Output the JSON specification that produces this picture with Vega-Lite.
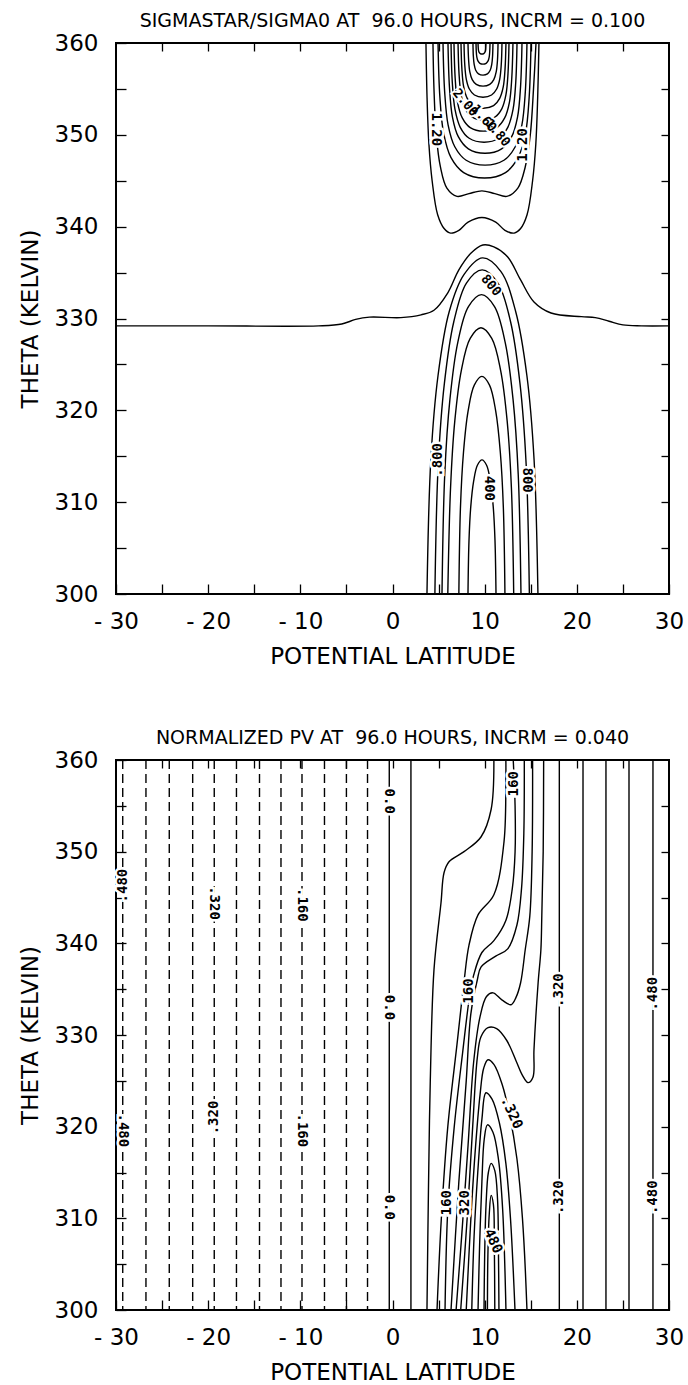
{
"$schema": "https://vega.github.io/schema/vega-lite/v6.json",
"autosize": {"type": "pad"},
"padding": {"left": 18, "top": 11, "right": 0, "bottom": 0},
"background": "white",
"bounds": "flush",
"spacing": 166,
"config": {
 "view": {"stroke": "black", "strokeWidth": 2},
 "axis": {"labelFlush": false, "labelOverlap": false, "labelBound": false, "grid": false, "domain": false, "tickColor": "black", "tickWidth": 1.3, "labelColor": "black", "titleColor": "black", "labelFont": "DejaVu Sans", "titleFont": "DejaVu Sans", "labelFontSize": 23, "titleFontSize": 23, "titleFontWeight": "normal"}
},
"datasets": {
 "tl": [
  {"c":"L10","i":0,"x":-30,"y":329.2},{"c":"L10","i":1,"x":-20,"y":329.2},{"c":"L10","i":2,"x":-8,"y":329.2},{"c":"L10","i":3,"x":-5.5,"y":329.4},{"c":"L10","i":4,"x":-4,"y":329.9},{"c":"L10","i":5,"x":-2.5,"y":330.15},{"c":"L10","i":6,"x":0.9,"y":330.1},{"c":"L10","i":7,"x":3.1,"y":330.4},{"c":"L10","i":8,"x":4.5,"y":330.9},{"c":"L10","i":9,"x":6.0,"y":332.8},{"c":"L10","i":10,"x":7.2,"y":335.3},{"c":"L10","i":11,"x":8.5,"y":337.1},{"c":"L10","i":12,"x":9.8,"y":338.0},{"c":"L10","i":13,"x":11.0,"y":337.8},{"c":"L10","i":14,"x":12.5,"y":336.7},{"c":"L10","i":15,"x":13.9,"y":334.2},{"c":"L10","i":16,"x":15.35,"y":331.8},{"c":"L10","i":17,"x":17.2,"y":330.6},{"c":"L10","i":18,"x":20.5,"y":330.2},{"c":"L10","i":19,"x":22,"y":330.1},{"c":"L10","i":20,"x":23.5,"y":329.7},{"c":"L10","i":21,"x":25,"y":329.3},{"c":"L10","i":22,"x":27,"y":329.2},{"c":"L10","i":23,"x":30,"y":329.2},
  {"c":"U11","i":0,"x":3.63,"y":360},{"c":"U11","i":1,"x":3.75,"y":354},{"c":"U11","i":2,"x":3.95,"y":349},{"c":"U11","i":3,"x":4.3,"y":345},{"c":"U11","i":4,"x":4.9,"y":341.3},{"c":"U11","i":5,"x":5.6,"y":339.8},{"c":"U11","i":6,"x":6.3,"y":339.3},{"c":"U11","i":7,"x":7.2,"y":339.6},{"c":"U11","i":8,"x":8.2,"y":340.5},{"c":"U11","i":9,"x":9.7,"y":341.0},{"c":"U11","i":10,"x":11.2,"y":340.5},{"c":"U11","i":11,"x":12.2,"y":339.6},{"c":"U11","i":12,"x":13.2,"y":339.3},{"c":"U11","i":13,"x":13.9,"y":339.8},{"c":"U11","i":14,"x":14.6,"y":341.3},{"c":"U11","i":15,"x":15.2,"y":345},{"c":"U11","i":16,"x":15.55,"y":349},{"c":"U11","i":17,"x":15.75,"y":354},{"c":"U11","i":18,"x":15.89,"y":360},
  {"c":"U12","i":0,"x":4.39,"y":360},{"c":"U12","i":1,"x":4.5,"y":355},{"c":"U12","i":2,"x":4.75,"y":350},{"c":"U12","i":3,"x":5.2,"y":346.5},{"c":"U12","i":4,"x":5.9,"y":344.2},{"c":"U12","i":5,"x":7.0,"y":343.3},{"c":"U12","i":6,"x":8.3,"y":343.6},{"c":"U12","i":7,"x":9.7,"y":343.9},{"c":"U12","i":8,"x":11.1,"y":343.6},{"c":"U12","i":9,"x":12.4,"y":343.3},{"c":"U12","i":10,"x":13.6,"y":344.2},{"c":"U12","i":11,"x":14.4,"y":346.5},{"c":"U12","i":12,"x":14.95,"y":350},{"c":"U12","i":13,"x":15.3,"y":355},{"c":"U12","i":14,"x":15.57,"y":360},
  {"c":"U13","i":0,"x":4.94,"y":360},{"c":"U13","i":1,"x":5.14,"y":354.12},{"c":"U13","i":2,"x":5.55,"y":350.15},{"c":"U13","i":3,"x":6.35,"y":347.51},{"c":"U13","i":4,"x":7.72,"y":345.89},{"c":"U13","i":5,"x":9.99,"y":345.3},{"c":"U13","i":6,"x":12.26,"y":345.89},{"c":"U13","i":7,"x":13.62,"y":347.51},{"c":"U13","i":8,"x":14.43,"y":350.15},{"c":"U13","i":9,"x":14.83,"y":354.12},{"c":"U13","i":10,"x":15.03,"y":360},
  {"c":"U14","i":0,"x":5.48,"y":360},{"c":"U14","i":1,"x":5.66,"y":354.68},{"c":"U14","i":2,"x":6.03,"y":351.09},{"c":"U14","i":3,"x":6.76,"y":348.7},{"c":"U14","i":4,"x":7.99,"y":347.23},{"c":"U14","i":5,"x":10.04,"y":346.7},{"c":"U14","i":6,"x":12.09,"y":347.23},{"c":"U14","i":7,"x":13.32,"y":348.7},{"c":"U14","i":8,"x":14.04,"y":351.09},{"c":"U14","i":9,"x":14.41,"y":354.68},{"c":"U14","i":10,"x":14.59,"y":360},
  {"c":"U15","i":0,"x":6.02,"y":360},{"c":"U15","i":1,"x":6.18,"y":355.2},{"c":"U15","i":2,"x":6.5,"y":351.96},{"c":"U15","i":3,"x":7.14,"y":349.8},{"c":"U15","i":4,"x":8.23,"y":348.48},{"c":"U15","i":5,"x":10.04,"y":348.0},{"c":"U15","i":6,"x":11.84,"y":348.48},{"c":"U15","i":7,"x":12.93,"y":349.8},{"c":"U15","i":8,"x":13.57,"y":351.96},{"c":"U15","i":9,"x":13.89,"y":355.2},{"c":"U15","i":10,"x":14.05,"y":360},
  {"c":"U16","i":0,"x":6.35,"y":360},{"c":"U16","i":1,"x":6.49,"y":355.68},{"c":"U16","i":2,"x":6.78,"y":352.76},{"c":"U16","i":3,"x":7.35,"y":350.82},{"c":"U16","i":4,"x":8.32,"y":349.63},{"c":"U16","i":5,"x":9.93,"y":349.2},{"c":"U16","i":6,"x":11.54,"y":349.63},{"c":"U16","i":7,"x":12.51,"y":350.82},{"c":"U16","i":8,"x":13.08,"y":352.76},{"c":"U16","i":9,"x":13.37,"y":355.68},{"c":"U16","i":10,"x":13.51,"y":360},
  {"c":"U17","i":0,"x":6.67,"y":360},{"c":"U17","i":1,"x":6.8,"y":356.16},{"c":"U17","i":2,"x":7.05,"y":353.57},{"c":"U17","i":3,"x":7.57,"y":351.84},{"c":"U17","i":4,"x":8.43,"y":350.78},{"c":"U17","i":5,"x":9.87,"y":350.4},{"c":"U17","i":6,"x":11.31,"y":350.78},{"c":"U17","i":7,"x":12.17,"y":351.84},{"c":"U17","i":8,"x":12.69,"y":353.57},{"c":"U17","i":9,"x":12.94,"y":356.16},{"c":"U17","i":10,"x":13.07,"y":360},
  {"c":"U18","i":0,"x":7.11,"y":360},{"c":"U18","i":1,"x":7.22,"y":356.64},{"c":"U18","i":2,"x":7.44,"y":354.37},{"c":"U18","i":3,"x":7.88,"y":352.86},{"c":"U18","i":4,"x":8.63,"y":351.94},{"c":"U18","i":5,"x":9.88,"y":351.6},{"c":"U18","i":6,"x":11.12,"y":351.94},{"c":"U18","i":7,"x":11.87,"y":352.86},{"c":"U18","i":8,"x":12.31,"y":354.37},{"c":"U18","i":9,"x":12.53,"y":356.64},{"c":"U18","i":10,"x":12.64,"y":360},
  {"c":"U19","i":0,"x":7.43,"y":360},{"c":"U19","i":1,"x":7.53,"y":357.16},{"c":"U19","i":2,"x":7.72,"y":355.24},{"c":"U19","i":3,"x":8.11,"y":353.97},{"c":"U19","i":4,"x":8.77,"y":353.18},{"c":"U19","i":5,"x":9.87,"y":352.9},{"c":"U19","i":6,"x":10.97,"y":353.18},{"c":"U19","i":7,"x":11.63,"y":353.97},{"c":"U19","i":8,"x":12.02,"y":355.24},{"c":"U19","i":9,"x":12.21,"y":357.16},{"c":"U19","i":10,"x":12.31,"y":360},
  {"c":"U20","i":0,"x":7.76,"y":360},{"c":"U20","i":1,"x":7.84,"y":357.64},{"c":"U20","i":2,"x":8.01,"y":356.05},{"c":"U20","i":3,"x":8.34,"y":354.99},{"c":"U20","i":4,"x":8.89,"y":354.34},{"c":"U20","i":5,"x":9.82,"y":354.1},{"c":"U20","i":6,"x":10.75,"y":354.34},{"c":"U20","i":7,"x":11.3,"y":354.99},{"c":"U20","i":8,"x":11.63,"y":356.05},{"c":"U20","i":9,"x":11.8,"y":357.64},{"c":"U20","i":10,"x":11.88,"y":360},
  {"c":"U21","i":0,"x":8.19,"y":360},{"c":"U21","i":1,"x":8.26,"y":358.12},{"c":"U21","i":2,"x":8.39,"y":356.85},{"c":"U21","i":3,"x":8.65,"y":356.01},{"c":"U21","i":4,"x":9.09,"y":355.49},{"c":"U21","i":5,"x":9.82,"y":355.3},{"c":"U21","i":6,"x":10.55,"y":355.49},{"c":"U21","i":7,"x":10.99,"y":356.01},{"c":"U21","i":8,"x":11.25,"y":356.85},{"c":"U21","i":9,"x":11.39,"y":358.12},{"c":"U21","i":10,"x":11.45,"y":360},
  {"c":"U22","i":0,"x":8.73,"y":360},{"c":"U22","i":1,"x":8.77,"y":358.6},{"c":"U22","i":2,"x":8.86,"y":357.66},{"c":"U22","i":3,"x":9.03,"y":357.03},{"c":"U22","i":4,"x":9.33,"y":356.64},{"c":"U22","i":5,"x":9.82,"y":356.5},{"c":"U22","i":6,"x":10.3,"y":356.64},{"c":"U22","i":7,"x":10.6,"y":357.03},{"c":"U22","i":8,"x":10.77,"y":357.66},{"c":"U22","i":9,"x":10.86,"y":358.6},{"c":"U22","i":10,"x":10.9,"y":360},
  {"c":"U23","i":0,"x":9.06,"y":360},{"c":"U23","i":1,"x":9.09,"y":359.08},{"c":"U23","i":2,"x":9.15,"y":358.46},{"c":"U23","i":3,"x":9.27,"y":358.05},{"c":"U23","i":4,"x":9.48,"y":357.79},{"c":"U23","i":5,"x":9.82,"y":357.7},{"c":"U23","i":6,"x":10.16,"y":357.79},{"c":"U23","i":7,"x":10.37,"y":358.05},{"c":"U23","i":8,"x":10.49,"y":358.46},{"c":"U23","i":9,"x":10.55,"y":359.08},{"c":"U23","i":10,"x":10.58,"y":360},
  {"c":"U24","i":0,"x":9.28,"y":360},{"c":"U24","i":1,"x":9.3,"y":359.52},{"c":"U24","i":2,"x":9.33,"y":359.2},{"c":"U24","i":3,"x":9.4,"y":358.98},{"c":"U24","i":4,"x":9.52,"y":358.85},{"c":"U24","i":5,"x":9.71,"y":358.8},{"c":"U24","i":6,"x":9.9,"y":358.85},{"c":"U24","i":7,"x":10.02,"y":358.98},{"c":"U24","i":8,"x":10.09,"y":359.2},{"c":"U24","i":9,"x":10.12,"y":359.52},{"c":"U24","i":10,"x":10.14,"y":360},
  {"c":"D09","i":0,"x":3.74,"y":300},{"c":"D09","i":1,"x":4.16,"y":314.64},{"c":"D09","i":2,"x":4.94,"y":323.79},{"c":"D09","i":3,"x":6.15,"y":330.74},{"c":"D09","i":4,"x":7.77,"y":334.8},{"c":"D09","i":5,"x":9.76,"y":336.6},{"c":"D09","i":6,"x":11.75,"y":335.14},{"c":"D09","i":7,"x":13.37,"y":330.74},{"c":"D09","i":8,"x":14.58,"y":323.79},{"c":"D09","i":9,"x":15.36,"y":314.64},{"c":"D09","i":10,"x":15.78,"y":300},
  {"c":"D08","i":0,"x":4.6,"y":300},{"c":"D08","i":1,"x":4.96,"y":314.12},{"c":"D08","i":2,"x":5.63,"y":322.94},{"c":"D08","i":3,"x":6.65,"y":329.65},{"c":"D08","i":4,"x":8.04,"y":333.89},{"c":"D08","i":5,"x":9.73,"y":335.3},{"c":"D08","i":6,"x":11.42,"y":333.89},{"c":"D08","i":7,"x":12.81,"y":329.65},{"c":"D08","i":8,"x":13.83,"y":322.94},{"c":"D08","i":9,"x":14.5,"y":314.12},{"c":"D08","i":10,"x":14.85,"y":300},
  {"c":"D07","i":0,"x":5.37,"y":300},{"c":"D07","i":1,"x":5.67,"y":313.04},{"c":"D07","i":2,"x":6.23,"y":321.19},{"c":"D07","i":3,"x":7.08,"y":327.38},{"c":"D07","i":4,"x":8.24,"y":331.3},{"c":"D07","i":5,"x":9.66,"y":332.6},{"c":"D07","i":6,"x":11.07,"y":331.3},{"c":"D07","i":7,"x":12.23,"y":327.38},{"c":"D07","i":8,"x":13.08,"y":321.19},{"c":"D07","i":9,"x":13.64,"y":313.04},{"c":"D07","i":10,"x":13.94,"y":300},
  {"c":"D06","i":0,"x":6.0,"y":300},{"c":"D06","i":1,"x":6.3,"y":311.6},{"c":"D06","i":2,"x":6.76,"y":318.85},{"c":"D06","i":3,"x":7.47,"y":324.36},{"c":"D06","i":4,"x":8.43,"y":327.84},{"c":"D06","i":5,"x":9.6,"y":329.0},{"c":"D06","i":6,"x":10.77,"y":327.84},{"c":"D06","i":7,"x":11.73,"y":324.36},{"c":"D06","i":8,"x":12.44,"y":318.85},{"c":"D06","i":9,"x":12.9,"y":311.6},{"c":"D06","i":10,"x":13.15,"y":300},
  {"c":"D05","i":0,"x":7.2,"y":300},{"c":"D05","i":1,"x":7.375,"y":309.48},{"c":"D05","i":2,"x":7.7,"y":315.41},{"c":"D05","i":3,"x":8.2,"y":319.91},{"c":"D05","i":4,"x":8.875,"y":322.75},{"c":"D05","i":5,"x":9.7,"y":323.7},{"c":"D05","i":6,"x":10.525,"y":322.75},{"c":"D05","i":7,"x":11.2,"y":319.91},{"c":"D05","i":8,"x":11.7,"y":315.41},{"c":"D05","i":9,"x":12.025,"y":309.48},{"c":"D05","i":10,"x":12.2,"y":300},
  {"c":"D04","i":0,"x":8.19,"y":300},{"c":"D04","i":1,"x":8.3,"y":305.84},{"c":"D04","i":2,"x":8.49,"y":309.49},{"c":"D04","i":3,"x":8.8,"y":312.26},{"c":"D04","i":4,"x":9.21,"y":314.02},{"c":"D04","i":5,"x":9.71,"y":314.6},{"c":"D04","i":6,"x":10.21,"y":314.02},{"c":"D04","i":7,"x":10.62,"y":312.26},{"c":"D04","i":8,"x":10.93,"y":309.49},{"c":"D04","i":9,"x":11.12,"y":305.84},{"c":"D04","i":10,"x":11.23,"y":300}
 ],
 "tv": [{"t":"1.20","x":4.7,"y":350.6},{"t":"800","x":14.6,"y":312.4},{"t":"400","x":10.5,"y":311.5}],
 "tu": [{"t":"1.20","x":14.2,"y":348.9},{"t":".800","x":4.94,"y":314.6}],
 "ts": [{"t":"800","x":10.7,"y":333.6},{"t":"2.00","x":7.9,"y":353.5},{"t":"1.60","x":9.9,"y":351.8},{"t":"1.80","x":11.4,"y":350.2}],
 "bl": [
  {"c":"Z00","i":0,"x":-0.35,"y":360},{"c":"Z00","i":1,"x":-0.35,"y":300},
  {"c":"P04","i":0,"x":2.0,"y":360},{"c":"P04","i":1,"x":2.0,"y":300},
  {"c":"P08","i":0,"x":11.0,"y":360},{"c":"P08","i":1,"x":10.7,"y":354.6},{"c":"P08","i":2,"x":9.6,"y":351.6},{"c":"P08","i":3,"x":7.76,"y":350.0},{"c":"P08","i":4,"x":6.13,"y":348.9},{"c":"P08","i":5,"x":5.59,"y":347.7},{"c":"P08","i":6,"x":5.26,"y":344.4},{"c":"P08","i":7,"x":4.5,"y":337.1},{"c":"P08","i":8,"x":4.1,"y":325},{"c":"P08","i":9,"x":3.9,"y":313},{"c":"P08","i":10,"x":3.74,"y":300},
  {"c":"P12","i":0,"x":12.3,"y":360},{"c":"P12","i":1,"x":12.3,"y":358.4},{"c":"P12","i":2,"x":12.1,"y":351.1},{"c":"P12","i":3,"x":11.0,"y":345.3},{"c":"P12","i":4,"x":9.28,"y":343.1},{"c":"P12","i":5,"x":8.3,"y":339.8},{"c":"P12","i":6,"x":7.76,"y":335.8},{"c":"P12","i":7,"x":7.0,"y":329},{"c":"P12","i":8,"x":6.0,"y":320},{"c":"P12","i":9,"x":5.3,"y":310},{"c":"P12","i":10,"x":4.83,"y":300},
  {"c":"P16","i":0,"x":13.1,"y":360},{"c":"P16","i":1,"x":13.3,"y":355},{"c":"P16","i":2,"x":13.3,"y":350},{"c":"P16","i":3,"x":13.0,"y":346},{"c":"P16","i":4,"x":12.3,"y":342.5},{"c":"P16","i":5,"x":11.0,"y":340.3},{"c":"P16","i":6,"x":9.7,"y":339.0},{"c":"P16","i":7,"x":8.8,"y":336.5},{"c":"P16","i":8,"x":8.4,"y":334.5},{"c":"P16","i":9,"x":7.6,"y":328},{"c":"P16","i":10,"x":6.7,"y":320},{"c":"P16","i":11,"x":6.0,"y":311},{"c":"P16","i":12,"x":5.7,"y":300},
  {"c":"P20","i":0,"x":14.3,"y":360},{"c":"P20","i":1,"x":14.25,"y":352},{"c":"P20","i":2,"x":14.0,"y":346},{"c":"P20","i":3,"x":13.5,"y":342},{"c":"P20","i":4,"x":12.5,"y":339.4},{"c":"P20","i":5,"x":11.2,"y":338.6},{"c":"P20","i":6,"x":9.6,"y":337.4},{"c":"P20","i":7,"x":9.2,"y":336},{"c":"P20","i":8,"x":8.5,"y":332.3},{"c":"P20","i":9,"x":8.0,"y":325},{"c":"P20","i":10,"x":7.2,"y":314},{"c":"P20","i":11,"x":6.35,"y":300},
  {"c":"P24","i":0,"x":15.2,"y":360},{"c":"P24","i":1,"x":15.15,"y":350},{"c":"P24","i":2,"x":14.9,"y":343},{"c":"P24","i":3,"x":14.4,"y":339.3},{"c":"P24","i":4,"x":13.9,"y":335.7},{"c":"P24","i":5,"x":13.4,"y":334.1},{"c":"P24","i":6,"x":12.86,"y":333.3},{"c":"P24","i":7,"x":11.9,"y":333.8},{"c":"P24","i":8,"x":10.9,"y":334.6},{"c":"P24","i":9,"x":10.2,"y":334.2},{"c":"P24","i":10,"x":9.5,"y":332},{"c":"P24","i":11,"x":8.8,"y":327},{"c":"P24","i":12,"x":8.2,"y":318},{"c":"P24","i":13,"x":7.5,"y":308},{"c":"P24","i":14,"x":6.9,"y":300},
  {"c":"P28","i":0,"x":16.4,"y":360},{"c":"P28","i":1,"x":16.35,"y":350},{"c":"P28","i":2,"x":16.2,"y":343},{"c":"P28","i":3,"x":16.1,"y":339.3},{"c":"P28","i":4,"x":15.8,"y":335.7},{"c":"P28","i":5,"x":15.35,"y":328.4},{"c":"P28","i":6,"x":15.24,"y":325.4},{"c":"P28","i":7,"x":14.7,"y":324.8},{"c":"P28","i":8,"x":14.1,"y":325.6},{"c":"P28","i":9,"x":13.4,"y":327.2},{"c":"P28","i":10,"x":12.4,"y":329.4},{"c":"P28","i":11,"x":11.3,"y":330.7},{"c":"P28","i":12,"x":10.36,"y":330.8},{"c":"P28","i":13,"x":9.6,"y":329.8},{"c":"P28","i":14,"x":9.2,"y":327.5},{"c":"P28","i":15,"x":8.7,"y":320},{"c":"P28","i":16,"x":8.1,"y":310},{"c":"P28","i":17,"x":7.4,"y":300},
  {"c":"C32","i":0,"x":8.0,"y":300},{"c":"C32","i":1,"x":8.45,"y":309},{"c":"C32","i":2,"x":8.95,"y":317},{"c":"C32","i":3,"x":9.5,"y":323.5},{"c":"C32","i":4,"x":9.9,"y":326.4},{"c":"C32","i":5,"x":10.36,"y":327.3},{"c":"C32","i":6,"x":11.0,"y":326.8},{"c":"C32","i":7,"x":11.9,"y":324.6},{"c":"C32","i":8,"x":12.7,"y":321.3},{"c":"C32","i":9,"x":13.5,"y":316.5},{"c":"C32","i":10,"x":14.1,"y":310},{"c":"C32","i":11,"x":14.59,"y":300},
  {"c":"C36","i":0,"x":8.6,"y":300},{"c":"C36","i":1,"x":8.85,"y":308},{"c":"C36","i":2,"x":9.25,"y":315},{"c":"C36","i":3,"x":9.7,"y":320.8},{"c":"C36","i":4,"x":10.14,"y":323.7},{"c":"C36","i":5,"x":10.8,"y":323.0},{"c":"C36","i":6,"x":11.6,"y":320.4},{"c":"C36","i":7,"x":12.3,"y":316},{"c":"C36","i":8,"x":12.8,"y":310},{"c":"C36","i":9,"x":13.29,"y":300},
  {"c":"C40","i":0,"x":9.28,"y":300},{"c":"C40","i":1,"x":9.45,"y":307},{"c":"C40","i":2,"x":9.7,"y":314},{"c":"C40","i":3,"x":9.95,"y":318.6},{"c":"C40","i":4,"x":10.3,"y":320.2},{"c":"C40","i":5,"x":10.9,"y":319.4},{"c":"C40","i":6,"x":11.5,"y":316.4},{"c":"C40","i":7,"x":11.95,"y":311},{"c":"C40","i":8,"x":12.31,"y":300},
  {"c":"C44","i":0,"x":9.93,"y":300},{"c":"C44","i":1,"x":10.0,"y":306},{"c":"C44","i":2,"x":10.15,"y":311.5},{"c":"C44","i":3,"x":10.4,"y":315},{"c":"C44","i":4,"x":10.7,"y":316.0},{"c":"C44","i":5,"x":11.1,"y":315.2},{"c":"C44","i":6,"x":11.4,"y":312},{"c":"C44","i":7,"x":11.5,"y":306},{"c":"C44","i":8,"x":11.55,"y":300},
  {"c":"C48","i":0,"x":10.3,"y":300},{"c":"C48","i":1,"x":10.35,"y":306},{"c":"C48","i":2,"x":10.5,"y":310.5},{"c":"C48","i":3,"x":10.7,"y":312.5},{"c":"C48","i":4,"x":10.95,"y":311.5},{"c":"C48","i":5,"x":11.05,"y":307},{"c":"C48","i":6,"x":11.1,"y":300},
  {"c":"R32","i":0,"x":18.1,"y":360},{"c":"R32","i":1,"x":18.1,"y":300},
  {"c":"R36","i":0,"x":20.67,"y":360},{"c":"R36","i":1,"x":20.67,"y":300},
  {"c":"R40","i":0,"x":23.16,"y":360},{"c":"R40","i":1,"x":23.16,"y":300},
  {"c":"R44","i":0,"x":25.66,"y":360},{"c":"R44","i":1,"x":25.66,"y":300},
  {"c":"R48","i":0,"x":28.26,"y":360},{"c":"R48","i":1,"x":28.26,"y":300}
 ],
 "bd": [
  {"c":"N48","i":0,"x":-29.27,"y":360},{"c":"N48","i":1,"x":-29.27,"y":300},
  {"c":"N44","i":0,"x":-26.75,"y":360},{"c":"N44","i":1,"x":-26.75,"y":300},
  {"c":"N40","i":0,"x":-24.22,"y":360},{"c":"N40","i":1,"x":-24.22,"y":300},
  {"c":"N36","i":0,"x":-21.68,"y":360},{"c":"N36","i":1,"x":-21.68,"y":300},
  {"c":"N32","i":0,"x":-19.34,"y":360},{"c":"N32","i":1,"x":-19.34,"y":300},
  {"c":"N28","i":0,"x":-16.93,"y":360},{"c":"N28","i":1,"x":-16.93,"y":300},
  {"c":"N24","i":0,"x":-14.43,"y":360},{"c":"N24","i":1,"x":-14.43,"y":300},
  {"c":"N20","i":0,"x":-12.1,"y":360},{"c":"N20","i":1,"x":-12.1,"y":300},
  {"c":"N16","i":0,"x":-9.82,"y":360},{"c":"N16","i":1,"x":-9.82,"y":300},
  {"c":"N12","i":0,"x":-7.38,"y":360},{"c":"N12","i":1,"x":-7.38,"y":300},
  {"c":"N08","i":0,"x":-5.0,"y":360},{"c":"N08","i":1,"x":-5.0,"y":300},
  {"c":"N04","i":0,"x":-2.71,"y":360},{"c":"N04","i":1,"x":-2.71,"y":300}
 ],
 "bv": [{"t":"0.0","x":-0.35,"y":355.5},{"t":"0.0","x":-0.35,"y":333.0},{"t":"0.0","x":-0.35,"y":311.2},{"t":".320","x":-19.34,"y":344.4},{"t":".160","x":-9.82,"y":344.2},{"t":".160","x":-9.82,"y":319.6},{"t":".480","x":-29.27,"y":319.6}],
 "bu": [{"t":".480","x":-29.27,"y":346.3},{"t":".320","x":-19.34,"y":321.0},{"t":"160","x":13.2,"y":357.4},{"t":"160","x":8.3,"y":334.8},{"t":"160","x":5.9,"y":311.7},{"t":"320","x":7.9,"y":311.7},{"t":".320","x":18.1,"y":334.9},{"t":".320","x":18.1,"y":312.3},{"t":".480","x":28.26,"y":334.5},{"t":".480","x":28.26,"y":312.3}],
 "bs": [{"t":".320","x":12.9,"y":321.5},{"t":"480","x":10.9,"y":307.5}]
},
"vconcat": [
 {
  "width": 553, "height": 551,
  "title": {"text": "SIGMASTAR/SIGMA0 AT\u00a0 96.0 HOURS, INCRM = 0.100", "font": "DejaVu Sans", "fontSize": 19, "fontWeight": "normal", "color": "black", "baseline": "alphabetic", "offset": -14, "anchor": "middle"},
  "resolve": {"axis": {"x": "independent", "y": "independent"}},
  "layer": [
   {"data": {"name": "tl"}, "mark": {"type": "line", "interpolate": "catmull-rom", "color": "black", "strokeWidth": 1.4, "clip": true},
    "encoding": {
     "x": {"field": "x", "type": "quantitative", "scale": {"domain": [-30, 30], "nice": false, "zero": false}, "axis": {"orient": "bottom", "values": [-30,-25,-20,-15,-10,-5,0,5,10,15,20,25,30], "labelExpr": "datum.value % 10 == 0 ? (datum.value < 0 ? '- ' + abs(datum.value) : datum.label) : ''", "tickSize": -10, "labelPadding": 26, "title": "POTENTIAL LATITUDE", "titlePadding": 12}},
     "y": {"field": "y", "type": "quantitative", "scale": {"domain": [300, 360], "nice": false, "zero": false}, "axis": {"orient": "left", "values": [300,305,310,315,320,325,330,335,340,345,350,355,360], "labelExpr": "datum.value % 10 == 0 ? datum.label : ''", "tickSize": -10, "labelPadding": 28, "title": "THETA (KELVIN)", "titlePadding": 12}},
     "detail": {"field": "c", "type": "nominal"},
     "order": {"field": "i", "type": "quantitative"}
    }},
   {"data": {"name": "tv"}, "mark": {"type": "text", "angle": 90, "font": "DejaVu Sans Mono", "fontSize": 14, "fontWeight": "bold", "fill": "white", "stroke": "white", "strokeWidth": 5},
    "encoding": {
     "x": {"field": "x", "type": "quantitative", "scale": {"domain": [-30, 30], "nice": false, "zero": false}, "axis": {"orient": "top", "values": [-25,-20,-15,-10,-5,0,5,10,15,20,25], "labels": false, "tickSize": -8, "title": null}},
     "y": {"field": "y", "type": "quantitative", "scale": {"domain": [300, 360], "nice": false, "zero": false}, "axis": {"orient": "right", "values": [305,310,315,320,325,330,335,340,345,350,355], "labels": false, "tickSize": -8, "title": null}},
     "text": {"field": "t"}
    }},
   {"data": {"name": "tv"}, "mark": {"type": "text", "angle": 90, "font": "DejaVu Sans Mono", "fontSize": 14, "fontWeight": "bold", "color": "black"},
    "encoding": {"x": {"field": "x", "type": "quantitative", "axis": null}, "y": {"field": "y", "type": "quantitative", "axis": null}, "text": {"field": "t"}}},
   {"data": {"name": "tu"}, "mark": {"type": "text", "angle": 270, "font": "DejaVu Sans Mono", "fontSize": 14, "fontWeight": "bold", "fill": "white", "stroke": "white", "strokeWidth": 5},
    "encoding": {"x": {"field": "x", "type": "quantitative", "axis": null}, "y": {"field": "y", "type": "quantitative", "axis": null}, "text": {"field": "t"}}},
   {"data": {"name": "tu"}, "mark": {"type": "text", "angle": 270, "font": "DejaVu Sans Mono", "fontSize": 14, "fontWeight": "bold", "color": "black"},
    "encoding": {"x": {"field": "x", "type": "quantitative", "axis": null}, "y": {"field": "y", "type": "quantitative", "axis": null}, "text": {"field": "t"}}},
   {"data": {"name": "ts"}, "mark": {"type": "text", "angle": 50, "font": "DejaVu Sans Mono", "fontSize": 13, "fontWeight": "bold", "fill": "white", "stroke": "white", "strokeWidth": 4},
    "encoding": {"x": {"field": "x", "type": "quantitative", "axis": null}, "y": {"field": "y", "type": "quantitative", "axis": null}, "text": {"field": "t"}}},
   {"data": {"name": "ts"}, "mark": {"type": "text", "angle": 50, "font": "DejaVu Sans Mono", "fontSize": 13, "fontWeight": "bold", "color": "black"},
    "encoding": {"x": {"field": "x", "type": "quantitative", "axis": null}, "y": {"field": "y", "type": "quantitative", "axis": null}, "text": {"field": "t"}}}
  ]
 },
 {
  "width": 553, "height": 550,
  "title": {"text": "NORMALIZED PV AT\u00a0 96.0 HOURS, INCRM = 0.040", "font": "DejaVu Sans", "fontSize": 19, "fontWeight": "normal", "color": "black", "baseline": "alphabetic", "offset": -14, "anchor": "middle"},
  "resolve": {"axis": {"x": "independent", "y": "independent"}},
  "layer": [
   {"data": {"name": "bl"}, "mark": {"type": "line", "interpolate": "catmull-rom", "color": "black", "strokeWidth": 1.4, "clip": true},
    "encoding": {
     "x": {"field": "x", "type": "quantitative", "scale": {"domain": [-30, 30], "nice": false, "zero": false}, "axis": {"orient": "bottom", "values": [-30,-25,-20,-15,-10,-5,0,5,10,15,20,25,30], "labelExpr": "datum.value % 10 == 0 ? (datum.value < 0 ? '- ' + abs(datum.value) : datum.label) : ''", "tickSize": -10, "labelPadding": 26, "title": "POTENTIAL LATITUDE", "titlePadding": 12}},
     "y": {"field": "y", "type": "quantitative", "scale": {"domain": [300, 360], "nice": false, "zero": false}, "axis": {"orient": "left", "values": [300,305,310,315,320,325,330,335,340,345,350,355,360], "labelExpr": "datum.value % 10 == 0 ? datum.label : ''", "tickSize": -10, "labelPadding": 28, "title": "THETA (KELVIN)", "titlePadding": 12}},
     "detail": {"field": "c", "type": "nominal"},
     "order": {"field": "i", "type": "quantitative"}
    }},
   {"data": {"name": "bd"}, "mark": {"type": "line", "color": "black", "strokeWidth": 1.4, "strokeDash": [9, 5], "clip": true},
    "encoding": {"x": {"field": "x", "type": "quantitative", "axis": null}, "y": {"field": "y", "type": "quantitative", "axis": null}, "detail": {"field": "c", "type": "nominal"}, "order": {"field": "i", "type": "quantitative"}}},
   {"data": {"name": "bv"}, "mark": {"type": "text", "angle": 90, "font": "DejaVu Sans Mono", "fontSize": 14, "fontWeight": "bold", "fill": "white", "stroke": "white", "strokeWidth": 5},
    "encoding": {
     "x": {"field": "x", "type": "quantitative", "scale": {"domain": [-30, 30], "nice": false, "zero": false}, "axis": {"orient": "top", "values": [-25,-20,-15,-10,-5,0,5,10,15,20,25], "labels": false, "tickSize": -8, "title": null}},
     "y": {"field": "y", "type": "quantitative", "scale": {"domain": [300, 360], "nice": false, "zero": false}, "axis": {"orient": "right", "values": [305,310,315,320,325,330,335,340,345,350,355], "labels": false, "tickSize": -8, "title": null}},
     "text": {"field": "t"}
    }},
   {"data": {"name": "bv"}, "mark": {"type": "text", "angle": 90, "font": "DejaVu Sans Mono", "fontSize": 14, "fontWeight": "bold", "color": "black"},
    "encoding": {"x": {"field": "x", "type": "quantitative", "axis": null}, "y": {"field": "y", "type": "quantitative", "axis": null}, "text": {"field": "t"}}},
   {"data": {"name": "bu"}, "mark": {"type": "text", "angle": 270, "font": "DejaVu Sans Mono", "fontSize": 14, "fontWeight": "bold", "fill": "white", "stroke": "white", "strokeWidth": 5},
    "encoding": {"x": {"field": "x", "type": "quantitative", "axis": null}, "y": {"field": "y", "type": "quantitative", "axis": null}, "text": {"field": "t"}}},
   {"data": {"name": "bu"}, "mark": {"type": "text", "angle": 270, "font": "DejaVu Sans Mono", "fontSize": 14, "fontWeight": "bold", "color": "black"},
    "encoding": {"x": {"field": "x", "type": "quantitative", "axis": null}, "y": {"field": "y", "type": "quantitative", "axis": null}, "text": {"field": "t"}}},
   {"data": {"name": "bs"}, "mark": {"type": "text", "angle": 65, "font": "DejaVu Sans Mono", "fontSize": 14, "fontWeight": "bold", "fill": "white", "stroke": "white", "strokeWidth": 5},
    "encoding": {"x": {"field": "x", "type": "quantitative", "axis": null}, "y": {"field": "y", "type": "quantitative", "axis": null}, "text": {"field": "t"}}},
   {"data": {"name": "bs"}, "mark": {"type": "text", "angle": 65, "font": "DejaVu Sans Mono", "fontSize": 14, "fontWeight": "bold", "color": "black"},
    "encoding": {"x": {"field": "x", "type": "quantitative", "axis": null}, "y": {"field": "y", "type": "quantitative", "axis": null}, "text": {"field": "t"}}}
  ]
 }
]
}
